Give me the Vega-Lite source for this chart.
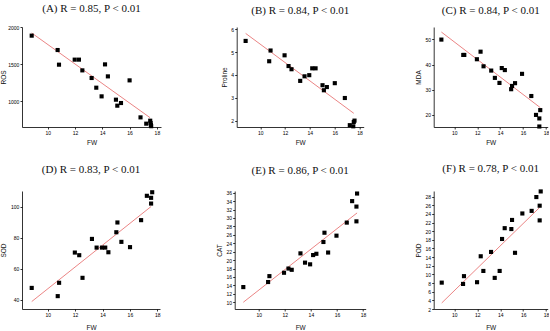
{
  "$schema": "https://vega.github.io/schema/vega-lite/v6.json",
  "padding": {"top": 3, "left": 0, "right": 0, "bottom": 0},
  "background": "white",
  "spacing": 17,
  "config": {
    "view": {"stroke": null},
    "axis": {"domainColor": "black", "tickColor": "black", "labelFont": "Liberation Sans", "titleFont": "Liberation Sans", "labelFontSize": 5, "titleFontSize": 6.5, "titleFontWeight": "normal", "grid": false, "tickSize": 2, "labelColor": "#000", "titleColor": "#111", "domainWidth": 0.8, "tickWidth": 0.8, "labelPadding": 1.2, "labelOverlap": false, "labelFlush": false, "tickCount": 40, "format": "d"},
    "title": {"font": "Liberation Serif", "fontSize": 11, "fontWeight": "normal", "color": "#111", "offset": 11},
    "style": {"group-title": {"font": "Liberation Serif", "fontSize": 11, "fontWeight": "normal", "fill": "#111"}}
  },
  "datasets": {
    "pts": [
      {"panel": "A", "FW": 8.83, "value": 1883}, {"panel": "A", "FW": 10.73, "value": 1689}, {"panel": "A", "FW": 10.83, "value": 1491}, {"panel": "A", "FW": 11.98, "value": 1559}, {"panel": "A", "FW": 12.29, "value": 1559}, {"panel": "A", "FW": 12.54, "value": 1414}, {"panel": "A", "FW": 13.22, "value": 1311}, {"panel": "A", "FW": 13.56, "value": 1180}, {"panel": "A", "FW": 13.95, "value": 1063}, {"panel": "A", "FW": 14.2, "value": 1495}, {"panel": "A", "FW": 14.41, "value": 1333}, {"panel": "A", "FW": 15.0, "value": 1018}, {"panel": "A", "FW": 15.1, "value": 937}, {"panel": "A", "FW": 15.37, "value": 973}, {"panel": "A", "FW": 16.0, "value": 1279}, {"panel": "A", "FW": 16.8, "value": 779}, {"panel": "A", "FW": 17.22, "value": 694}, {"panel": "A", "FW": 17.51, "value": 734}, {"panel": "A", "FW": 17.54, "value": 703}, {"panel": "A", "FW": 17.56, "value": 676}, {"panel": "A", "FW": 17.58, "value": 660},
      {"panel": "B", "FW": 8.82, "value": 5.49}, {"panel": "B", "FW": 10.72, "value": 4.6}, {"panel": "B", "FW": 10.83, "value": 5.07}, {"panel": "B", "FW": 11.96, "value": 4.86}, {"panel": "B", "FW": 12.28, "value": 4.39}, {"panel": "B", "FW": 12.52, "value": 4.25}, {"panel": "B", "FW": 13.22, "value": 3.74}, {"panel": "B", "FW": 13.57, "value": 3.94}, {"panel": "B", "FW": 13.95, "value": 3.99}, {"panel": "B", "FW": 14.19, "value": 4.29}, {"panel": "B", "FW": 14.46, "value": 4.29}, {"panel": "B", "FW": 15.02, "value": 3.55}, {"panel": "B", "FW": 15.13, "value": 3.33}, {"panel": "B", "FW": 15.37, "value": 3.47}, {"panel": "B", "FW": 16.01, "value": 3.64}, {"panel": "B", "FW": 16.82, "value": 2.99}, {"panel": "B", "FW": 17.22, "value": 1.8}, {"panel": "B", "FW": 17.54, "value": 1.94}, {"panel": "B", "FW": 17.6, "value": 2.0}, {"panel": "B", "FW": 17.5, "value": 1.75},
      {"panel": "C", "FW": 8.87, "value": 49.9}, {"panel": "C", "FW": 10.78, "value": 43.8}, {"panel": "C", "FW": 10.87, "value": 43.8}, {"panel": "C", "FW": 11.97, "value": 42.1}, {"panel": "C", "FW": 12.29, "value": 45.1}, {"panel": "C", "FW": 12.55, "value": 39.3}, {"panel": "C", "FW": 13.22, "value": 37.6}, {"panel": "C", "FW": 13.54, "value": 34.7}, {"panel": "C", "FW": 13.94, "value": 32.7}, {"panel": "C", "FW": 14.14, "value": 38.6}, {"panel": "C", "FW": 14.41, "value": 37.8}, {"panel": "C", "FW": 14.96, "value": 30.2}, {"panel": "C", "FW": 15.04, "value": 31.5}, {"panel": "C", "FW": 15.3, "value": 32.6}, {"panel": "C", "FW": 15.91, "value": 36.3}, {"panel": "C", "FW": 16.72, "value": 27.5}, {"panel": "C", "FW": 17.13, "value": 20.0}, {"panel": "C", "FW": 17.42, "value": 18.6}, {"panel": "C", "FW": 17.5, "value": 21.9}, {"panel": "C", "FW": 17.42, "value": 15.4},
      {"panel": "D", "FW": 8.83, "value": 47.5}, {"panel": "D", "FW": 10.73, "value": 42.2}, {"panel": "D", "FW": 10.83, "value": 50.8}, {"panel": "D", "FW": 11.98, "value": 70.3}, {"panel": "D", "FW": 12.3, "value": 68.6}, {"panel": "D", "FW": 12.54, "value": 54.0}, {"panel": "D", "FW": 13.23, "value": 79.1}, {"panel": "D", "FW": 13.57, "value": 73.5}, {"panel": "D", "FW": 13.96, "value": 73.5}, {"panel": "D", "FW": 14.2, "value": 73.5}, {"panel": "D", "FW": 14.43, "value": 70.5}, {"panel": "D", "FW": 15.01, "value": 83.4}, {"panel": "D", "FW": 15.09, "value": 89.7}, {"panel": "D", "FW": 15.38, "value": 77.2}, {"panel": "D", "FW": 16.01, "value": 73.8}, {"panel": "D", "FW": 16.82, "value": 91.2}, {"panel": "D", "FW": 17.24, "value": 106.9}, {"panel": "D", "FW": 17.55, "value": 105.6}, {"panel": "D", "FW": 17.55, "value": 101.9}, {"panel": "D", "FW": 17.63, "value": 109.2},
      {"panel": "E", "FW": 8.82, "value": 13.6}, {"panel": "E", "FW": 10.72, "value": 14.8}, {"panel": "E", "FW": 10.82, "value": 16.2}, {"panel": "E", "FW": 11.94, "value": 17.0}, {"panel": "E", "FW": 12.28, "value": 18.0}, {"panel": "E", "FW": 12.53, "value": 17.7}, {"panel": "E", "FW": 13.2, "value": 21.6}, {"panel": "E", "FW": 13.55, "value": 19.4}, {"panel": "E", "FW": 13.94, "value": 19.0}, {"panel": "E", "FW": 14.17, "value": 21.2}, {"panel": "E", "FW": 14.42, "value": 21.5}, {"panel": "E", "FW": 14.96, "value": 24.3}, {"panel": "E", "FW": 15.04, "value": 26.5}, {"panel": "E", "FW": 15.32, "value": 21.8}, {"panel": "E", "FW": 15.96, "value": 25.8}, {"panel": "E", "FW": 16.75, "value": 28.9}, {"panel": "E", "FW": 17.16, "value": 34.0}, {"panel": "E", "FW": 17.49, "value": 32.7}, {"panel": "E", "FW": 17.49, "value": 29.2}, {"panel": "E", "FW": 17.54, "value": 35.8},
      {"panel": "F", "FW": 8.9, "value": 8.1}, {"panel": "F", "FW": 10.76, "value": 7.8}, {"panel": "F", "FW": 10.84, "value": 9.6}, {"panel": "F", "FW": 11.98, "value": 8.2}, {"panel": "F", "FW": 12.3, "value": 14.2}, {"panel": "F", "FW": 12.53, "value": 10.8}, {"panel": "F", "FW": 13.2, "value": 15.2}, {"panel": "F", "FW": 13.52, "value": 9.2}, {"panel": "F", "FW": 13.95, "value": 10.8}, {"panel": "F", "FW": 14.16, "value": 18.2}, {"panel": "F", "FW": 14.39, "value": 20.7}, {"panel": "F", "FW": 14.97, "value": 20.5}, {"panel": "F", "FW": 15.03, "value": 22.6}, {"panel": "F", "FW": 15.29, "value": 15.0}, {"panel": "F", "FW": 15.93, "value": 24.1}, {"panel": "F", "FW": 16.74, "value": 24.7}, {"panel": "F", "FW": 17.15, "value": 27.9}, {"panel": "F", "FW": 17.44, "value": 25.9}, {"panel": "F", "FW": 17.44, "value": 22.5}, {"panel": "F", "FW": 17.53, "value": 29.2}
    ],
    "fit": [
      {"panel": "A", "FW": 8.83, "value": 1919}, {"panel": "A", "FW": 17.5, "value": 775},
      {"panel": "B", "FW": 8.82, "value": 5.82}, {"panel": "B", "FW": 17.54, "value": 2.32},
      {"panel": "C", "FW": 8.87, "value": 52.9}, {"panel": "C", "FW": 17.5, "value": 22.9},
      {"panel": "D", "FW": 8.83, "value": 38.7}, {"panel": "D", "FW": 17.55, "value": 100},
      {"panel": "E", "FW": 8.82, "value": 10.0}, {"panel": "E", "FW": 17.54, "value": 31.2},
      {"panel": "F", "FW": 8.9, "value": 3.4}, {"panel": "F", "FW": 17.44, "value": 25.5}
    ]
  },
  "vconcat": [
    {
      "bounds": "flush",
      "spacing": 75.7,
      "hconcat": [
        {
          "width": 139, "height": 100,
          "title": {"text": "(A) R = 0.85, P < 0.01", "fontWeight": "normal", "offset": 11},
          "layer": [
            {"data": {"name": "fit"}, "transform": [{"filter": "datum.panel == 'A'"}], "mark": {"type": "line", "color": "#eb8585", "strokeWidth": 1},
             "encoding": {"x": {"field": "FW", "type": "quantitative", "scale": {"domain": [8.12, 18.3], "nice": false, "zero": false}, "axis": {"title": "FW", "values": [10, 12, 14, 16, 18], "tickCount": 40, "titlePadding": 4, "labelOverlap": false}},
                          "y": {"field": "value", "type": "quantitative", "scale": {"domain": [649, 2000], "nice": false, "zero": false}, "axis": {"title": "ROS", "values": [1000, 1500, 2000], "tickCount": 40, "titlePadding": 1, "labelOverlap": false}}}},
            {"data": {"name": "pts"}, "transform": [{"filter": "datum.panel == 'A'"}], "mark": {"type": "square", "color": "black", "filled": true, "opacity": 1, "size": 17},
             "encoding": {"x": {"field": "FW", "type": "quantitative"}, "y": {"field": "value", "type": "quantitative"}}}
          ]
        },
        {
          "bounds": "flush",
          "spacing": 70,
          "hconcat": [
            {
              "width": 127, "height": 100,
              "title": {"text": "(B) R = 0.84, P < 0.01", "fontWeight": "normal", "offset": 11},
              "layer": [
                {"data": {"name": "fit"}, "transform": [{"filter": "datum.panel == 'B'"}], "mark": {"type": "line", "color": "#eb8585", "strokeWidth": 1},
                 "encoding": {"x": {"field": "FW", "type": "quantitative", "scale": {"domain": [8.1, 18.34], "nice": false, "zero": false}, "axis": {"title": "FW", "values": [10, 12, 14, 16, 18], "tickCount": 40, "titlePadding": 4, "labelOverlap": false}},
                              "y": {"field": "value", "type": "quantitative", "scale": {"domain": [1.72, 6.1], "nice": false, "zero": false}, "axis": {"title": "Proline", "values": [2, 3, 4, 5, 6], "tickCount": 40, "titlePadding": 3, "labelOverlap": false}}}},
                {"data": {"name": "pts"}, "transform": [{"filter": "datum.panel == 'B'"}], "mark": {"type": "square", "color": "black", "filled": true, "opacity": 1, "size": 17},
                 "encoding": {"x": {"field": "FW", "type": "quantitative"}, "y": {"field": "value", "type": "quantitative"}}}
              ]
            },
            {
              "width": 114, "height": 100,
              "title": {"text": "(C) R = 0.84, P < 0.01", "fontWeight": "normal", "offset": 11},
              "layer": [
                {"data": {"name": "fit"}, "transform": [{"filter": "datum.panel == 'C'"}], "mark": {"type": "line", "color": "#eb8585", "strokeWidth": 1},
                 "encoding": {"x": {"field": "FW", "type": "quantitative", "scale": {"domain": [8.2, 18.15], "nice": false, "zero": false}, "axis": {"title": "FW", "values": [10, 12, 14, 16, 18], "tickCount": 40, "titlePadding": 4, "labelOverlap": false}},
                              "y": {"field": "value", "type": "quantitative", "scale": {"domain": [15.2, 54.9], "nice": false, "zero": false}, "axis": {"title": "MDA", "values": [20, 30, 40, 50], "tickCount": 40, "titlePadding": 3, "labelOverlap": false}}}},
                {"data": {"name": "pts"}, "transform": [{"filter": "datum.panel == 'C'"}], "mark": {"type": "square", "color": "black", "filled": true, "opacity": 1, "size": 17},
                 "encoding": {"x": {"field": "FW", "type": "quantitative"}, "y": {"field": "value", "type": "quantitative"}}}
              ]
            }
          ]
        }
      ]
    },
    {
      "bounds": "flush",
      "spacing": 74.7,
      "hconcat": [
        {
          "width": 138, "height": 118,
          "title": {"text": "(D) R = 0.83, P < 0.01", "fontWeight": "normal", "offset": 15},
          "layer": [
            {"data": {"name": "fit"}, "transform": [{"filter": "datum.panel == 'D'"}], "mark": {"type": "line", "color": "#eb8585", "strokeWidth": 1},
             "encoding": {"x": {"field": "FW", "type": "quantitative", "scale": {"domain": [8.12, 18.2], "nice": false, "zero": false}, "axis": {"title": "FW", "values": [10, 12, 14, 16, 18], "tickCount": 40, "titlePadding": 7, "labelOverlap": false}},
                          "y": {"field": "value", "type": "quantitative", "scale": {"domain": [33.9, 110], "nice": false, "zero": false}, "axis": {"title": "SOD", "values": [40, 60, 80, 100], "tickCount": 40, "titlePadding": 4, "labelOverlap": false}}}},
            {"data": {"name": "pts"}, "transform": [{"filter": "datum.panel == 'D'"}], "mark": {"type": "square", "color": "black", "filled": true, "opacity": 1, "size": 17},
             "encoding": {"x": {"field": "FW", "type": "quantitative"}, "y": {"field": "value", "type": "quantitative"}}}
          ]
        },
        {
          "bounds": "flush",
          "spacing": 68,
          "hconcat": [
            {
              "width": 131, "height": 118,
              "title": {"text": "(E) R = 0.86, P < 0.01", "fontWeight": "normal", "offset": 15},
              "layer": [
                {"data": {"name": "fit"}, "transform": [{"filter": "datum.panel == 'E'"}], "mark": {"type": "line", "color": "#eb8585", "strokeWidth": 1},
                 "encoding": {"x": {"field": "FW", "type": "quantitative", "scale": {"domain": [8.16, 18.2], "nice": false, "zero": false}, "axis": {"title": "FW", "values": [10, 12, 14, 16, 18], "tickCount": 40, "titlePadding": 7, "labelOverlap": false}},
                              "y": {"field": "value", "type": "quantitative", "scale": {"domain": [8.4, 36.4], "nice": false, "zero": false}, "axis": {"title": "CAT", "values": [10, 12, 14, 16, 18, 20, 22, 24, 26, 28, 30, 32, 34, 36], "tickCount": 40, "titlePadding": 3, "labelOverlap": false}}}},
                {"data": {"name": "pts"}, "transform": [{"filter": "datum.panel == 'E'"}], "mark": {"type": "square", "color": "black", "filled": true, "opacity": 1, "size": 17},
                 "encoding": {"x": {"field": "FW", "type": "quantitative"}, "y": {"field": "value", "type": "quantitative"}}}
              ]
            },
            {
              "width": 114, "height": 118,
              "title": {"text": "(F) R = 0.78, P < 0.01", "fontWeight": "normal", "offset": 15},
              "layer": [
                {"data": {"name": "fit"}, "transform": [{"filter": "datum.panel == 'F'"}], "mark": {"type": "line", "color": "#eb8585", "strokeWidth": 1},
                 "encoding": {"x": {"field": "FW", "type": "quantitative", "scale": {"domain": [8.2, 18.14], "nice": false, "zero": false}, "axis": {"title": "FW", "values": [10, 12, 14, 16, 18], "tickCount": 40, "titlePadding": 7, "labelOverlap": false}},
                              "y": {"field": "value", "type": "quantitative", "scale": {"domain": [2, 29.3], "nice": false, "zero": false}, "axis": {"title": "POD", "values": [2, 4, 6, 8, 10, 12, 14, 16, 18, 20, 22, 24, 26, 28], "tickCount": 40, "titlePadding": 3, "labelOverlap": false}}}},
                {"data": {"name": "pts"}, "transform": [{"filter": "datum.panel == 'F'"}], "mark": {"type": "square", "color": "black", "filled": true, "opacity": 1, "size": 17},
                 "encoding": {"x": {"field": "FW", "type": "quantitative"}, "y": {"field": "value", "type": "quantitative"}}}
              ]
            }
          ]
        }
      ]
    }
  ]
}
